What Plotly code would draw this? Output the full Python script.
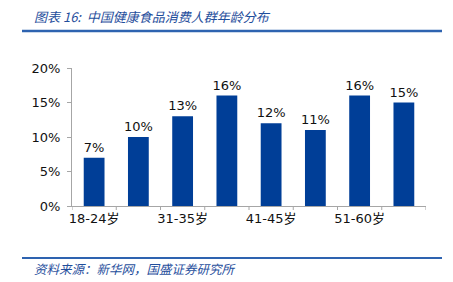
import plotly.graph_objects as go

categories = ["18-24岁", "25-30岁", "31-35岁", "36-40岁", "41-45岁", "46-50岁", "51-60岁", "60岁以上"]
values = [7, 10, 13, 16, 12, 11, 16, 15]
shown_ticks = ["18-24岁", "31-35岁", "41-45岁", "51-60岁"]
y_ticks = [0, 5, 10, 15, 20]
y_tick_labels = ["0%", "5%", "10%", "15%", "20%"]
title_text = "图表 16:  中国健康食品消费人群年龄分布"
source_text = "资料来源：新华网，国盛证券研究所"

W, H = 453, 282
L, R, T, B = 72, 27, 68, 76
pw, ph = W - L - R, H - T - B

def px(x):
    return (x - L) / pw

def py(y):
    return (H - B - y) / ph

font_main = "Verdana, DejaVu Sans, Noto Sans CJK SC"

fig = go.Figure(go.Bar(
    x=categories, y=values,
    marker=dict(color="#003e97", line=dict(width=0)),
    width=0.47,
    text=[f"{v}%" for v in values], textposition="outside",
    constraintext="none",
    textfont=dict(size=13, color="#111111", family=font_main),
    cliponaxis=False,
))

fig.update_layout(
    width=W, height=H,
    margin=dict(l=L, r=R, t=T, b=B),
    paper_bgcolor="white", plot_bgcolor="white",
    showlegend=False,
    xaxis=dict(
        type="category", tickmode="array", tickvals=shown_ticks, ticktext=shown_ticks,
        showline=True, linecolor="#a6a6a6", linewidth=1,
        ticks="", showgrid=False,
        tickfont=dict(size=13, color="#111111", family=font_main),
        range=[-0.5, 7.5],
    ),
    yaxis=dict(
        range=[0, 20], tickvals=y_ticks, ticktext=y_tick_labels,
        showline=True, linecolor="#a6a6a6", linewidth=1,
        ticks="outside", ticklen=4, tickcolor="#a6a6a6",
        showgrid=False, zeroline=False,
        tickfont=dict(size=13, color="#111111", family=font_main),
        ticklabelstandoff=4,
    ),
    font=dict(family=font_main),
)

shapes = []
# x-axis separator ticks between categories
for i in range(9):
    shapes.append(dict(type="line", xref="x", yref="paper",
                       x0=i - 0.5, x1=i - 0.5, y0=0, y1=py(H - B + 4),
                       line=dict(color="#a6a6a6", width=1)))
# header and footer rules
shapes.append(dict(type="line", xref="paper", yref="paper",
                   x0=px(22), x1=px(442), y0=py(31), y1=py(31),
                   line=dict(color="#2e63b0", width=2.5)))
shapes.append(dict(type="line", xref="paper", yref="paper",
                   x0=px(22), x1=px(442), y0=py(258), y1=py(258),
                   line=dict(color="#2e63b0", width=2)))
fig.update_layout(shapes=shapes)

fig.add_annotation(text=title_text, xref="paper", yref="paper",
                   x=px(32), y=py(16), xanchor="left", yanchor="middle",
                   showarrow=False,
                   font=dict(size=13, color="#1f4e9c", family="Noto Sans CJK SC, Noto Sans", style="italic"))
fig.add_annotation(text=source_text, xref="paper", yref="paper",
                   x=px(32), y=py(268), xanchor="left", yanchor="middle",
                   showarrow=False,
                   font=dict(size=12.5, color="#1f4e9c", family="Noto Sans CJK SC, Noto Sans", style="italic"))

fig.write_html("out.html")
